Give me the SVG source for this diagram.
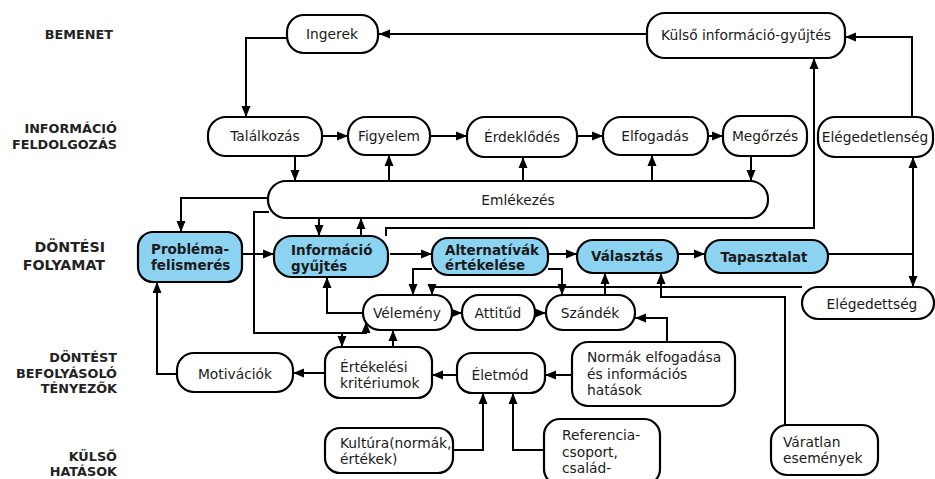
<svg xmlns="http://www.w3.org/2000/svg" width="935" height="479" viewBox="0 0 935 479">
<defs>
<marker id="ah" markerUnits="userSpaceOnUse" markerWidth="12" markerHeight="10" refX="11" refY="5" orient="auto">
<path d="M0,0.5 L11,5 L0,9.5 z" fill="#000"/>
</marker>
<style>
.box{fill:#fff;stroke:#000;stroke-width:2.2}
.blue{fill:#8cd3f2;stroke:#000;stroke-width:2.2}
.t{font-family:"DejaVu Sans",sans-serif;font-size:13.8px;fill:#1a1a1a;dominant-baseline:central}
.c{text-anchor:middle}
.b{font-weight:bold;font-size:13.5px}
.lab{font-family:"DejaVu Sans",sans-serif;font-weight:bold;font-size:12.8px;fill:#222;text-anchor:end;dominant-baseline:central}
.big{font-size:14.2px}
.ln{fill:none;stroke:#000;stroke-width:2}
.ar{fill:none;stroke:#000;stroke-width:2;marker-end:url(#ah)}
</style>
</defs>
<rect width="935" height="479" fill="#fff"/>

<g id="labels">
<text class="lab" x="113" y="34">BEMENET</text>
<text class="lab" x="117" y="128">INFORMÁCIÓ</text>
<text class="lab" x="117" y="144">FELDOLGOZÁS</text>
<text class="lab big" x="105" y="247">DÖNTÉSI</text>
<text class="lab big" x="105" y="265">FOLYAMAT</text>
<text class="lab" x="117" y="357">DÖNTÉST</text>
<text class="lab" x="117" y="373">BEFOLYÁSOLÓ</text>
<text class="lab" x="117" y="388">TÉNYEZŐK</text>
<text class="lab" x="117" y="456">KÜLSŐ</text>
<text class="lab" x="117" y="471">HATÁSOK</text>
</g>

<g id="connectors">
<path class="ar" d="M647,34 H379"/>
<path class="ar" d="M287,38 H246 V117"/>
<path class="ar" d="M322,136 H348"/>
<path class="ar" d="M430,136 H467"/>
<path class="ar" d="M577,136 H603"/>
<path class="ar" d="M708,136 H723"/>
<path class="ar" d="M295,156 V181"/>
<path class="ar" d="M389,181 V155"/>
<path class="ar" d="M523,181 V157"/>
<path class="ar" d="M652,181 V155"/>
<path class="ar" d="M751,156 V181"/>
<path class="ar" d="M268,198 H181 V232"/>
<path class="ar" d="M319,218 V236"/>
<path class="ar" d="M361,236 V218"/>
<path class="ar" d="M269,212 H254 V333 H366 V322"/>
<path class="ar" d="M342,333 V347"/>
<path class="ar" d="M386,236 V228 H814 V58"/>
<path class="ar" d="M242,254 H274"/>
<path class="ar" d="M390,254 H432"/>
<path class="ar" d="M548,254 H577"/>
<path class="ar" d="M678,254 H705"/>
<path class="ln" d="M828,254 H913"/>
<path class="ar" d="M913,254 V157"/>
<path class="ar" d="M913,254 V287"/>
<path class="ar" d="M912,117 V37 H845"/>
<path class="ar" d="M802,287 H432 V295"/>
<path class="ar" d="M432,269 H413 V295"/>
<path class="ar" d="M548,269 H562 V295"/>
<path class="ar" d="M605,295 V273"/>
<path class="ar" d="M785,425 V297 H661 V273"/>
<path class="ar" d="M363,313 H327 V277"/>
<path class="ar" d="M452,313 H462"/>
<path class="ar" d="M535,313 H546"/>
<path class="ar" d="M667,342 V318 H635"/>
<path class="ar" d="M572,375 H545"/>
<path class="ar" d="M457,375 H432"/>
<path class="ar" d="M325,373 H293"/>
<path class="ar" d="M177,374 H157 V282"/>
<path class="ar" d="M393,347 V330"/>
<path class="ar" d="M453,450 H483 V393"/>
<path class="ar" d="M544,450 H513 V393"/>
</g>

<g id="ingerek"><rect class="box" x="287" y="15" width="91" height="38" rx="17"/><text class="t c" x="332" y="34">Ingerek</text></g>
<g id="kulso-info"><rect class="box" x="647" y="13" width="198" height="45" rx="18"/><text class="t c" x="746" y="35">Külső információ-gyűjtés</text></g>
<g id="talalkozas"><rect class="box" x="208" y="117" width="114" height="39" rx="18"/><text class="t c" x="265" y="136">Találkozás</text></g>
<g id="figyelem"><rect class="box" x="348" y="117" width="82" height="38" rx="18"/><text class="t c" x="389" y="136">Figyelem</text></g>
<g id="erdeklodes"><rect class="box" x="467" y="117" width="110" height="40" rx="18"/><text class="t c" x="522" y="137">Érdeklődés</text></g>
<g id="elfogadas"><rect class="box" x="603" y="117" width="105" height="38" rx="18"/><text class="t c" x="655" y="136">Elfogadás</text></g>
<g id="megorzes"><rect class="box" x="723" y="116" width="84" height="40" rx="17"/><text class="t c" x="765" y="136">Megőrzés</text></g>
<g id="elegedetlenseg"><rect class="box" x="818" y="117" width="115" height="40" rx="17"/><text class="t c" x="875" y="137">Elégedetlenség</text></g>
<g id="emlekezes"><rect class="box" x="268" y="181" width="500" height="37" rx="18"/><text class="t c" x="518" y="200">Emlékezés</text></g>

<g id="problema"><rect class="blue" x="138" y="232" width="104" height="50" rx="15"/><text class="t b" x="151" y="249">Probléma-</text><text class="t b" x="151" y="265">felismerés</text></g>
<g id="info-gyujtes"><rect class="blue" x="274" y="236" width="114" height="41" rx="18"/><text class="t b" x="291" y="250">Információ</text><text class="t b" x="291" y="266">gyűjtés</text></g>
<g id="alternativak"><rect class="blue" x="432" y="238" width="116" height="37" rx="16"/><text class="t b" x="445" y="250">Alternatívák</text><text class="t b" x="445" y="265">értékelése</text></g>
<g id="valasztas"><rect class="blue" x="577" y="240" width="101" height="33" rx="16"/><text class="t b c" x="627" y="256">Választás</text></g>
<g id="tapasztalat"><rect class="blue" x="705" y="240" width="123" height="33" rx="16"/><text class="t b c" x="764" y="257">Tapasztalat</text></g>
<g id="elegedettseg"><rect class="box" x="802" y="287" width="132" height="32" rx="16"/><text class="t c" x="872" y="304">Elégedettség</text></g>

<g id="velemeny"><rect class="box" x="363" y="295" width="89" height="35" rx="17"/><text class="t c" x="407" y="313">Vélemény</text></g>
<g id="attitud"><rect class="box" x="462" y="295" width="73" height="35" rx="17"/><text class="t c" x="498" y="313">Attitűd</text></g>
<g id="szandek"><rect class="box" x="546" y="295" width="89" height="35" rx="17"/><text class="t c" x="590" y="313">Szándék</text></g>

<g id="motivaciok"><rect class="box" x="177" y="353" width="116" height="39" rx="17"/><text class="t c" x="235" y="374">Motivációk</text></g>
<g id="ertekelesi"><rect class="box" x="325" y="347" width="107" height="51" rx="15"/><text class="t" x="340" y="367">Értékelési</text><text class="t" x="340" y="383">kritériumok</text></g>
<g id="eletmod"><rect class="box" x="457" y="353" width="88" height="40" rx="15"/><text class="t c" x="500" y="375">Életmód</text></g>
<g id="normak"><rect class="box" x="572" y="342" width="163" height="64" rx="16"/><text class="t" x="587" y="357">Normák elfogadása</text><text class="t" x="587" y="374">és információs</text><text class="t" x="587" y="390">hatások</text></g>
<g id="kultura"><rect class="box" x="325" y="428" width="128" height="45" rx="15"/><text class="t" x="340" y="443">Kultúra(normák,</text><text class="t" x="340" y="459">értékek)</text></g>
<g id="referencia"><rect class="box" x="544" y="419" width="116" height="66" rx="16"/><text class="t" x="562" y="435">Referencia-</text><text class="t" x="562" y="452">csoport,</text><text class="t" x="562" y="468">család-</text></g>
<g id="varatlan"><rect class="box" x="771" y="425" width="107" height="50" rx="16"/><text class="t" x="783" y="442">Váratlan</text><text class="t" x="783" y="458">események</text></g>
</svg>
